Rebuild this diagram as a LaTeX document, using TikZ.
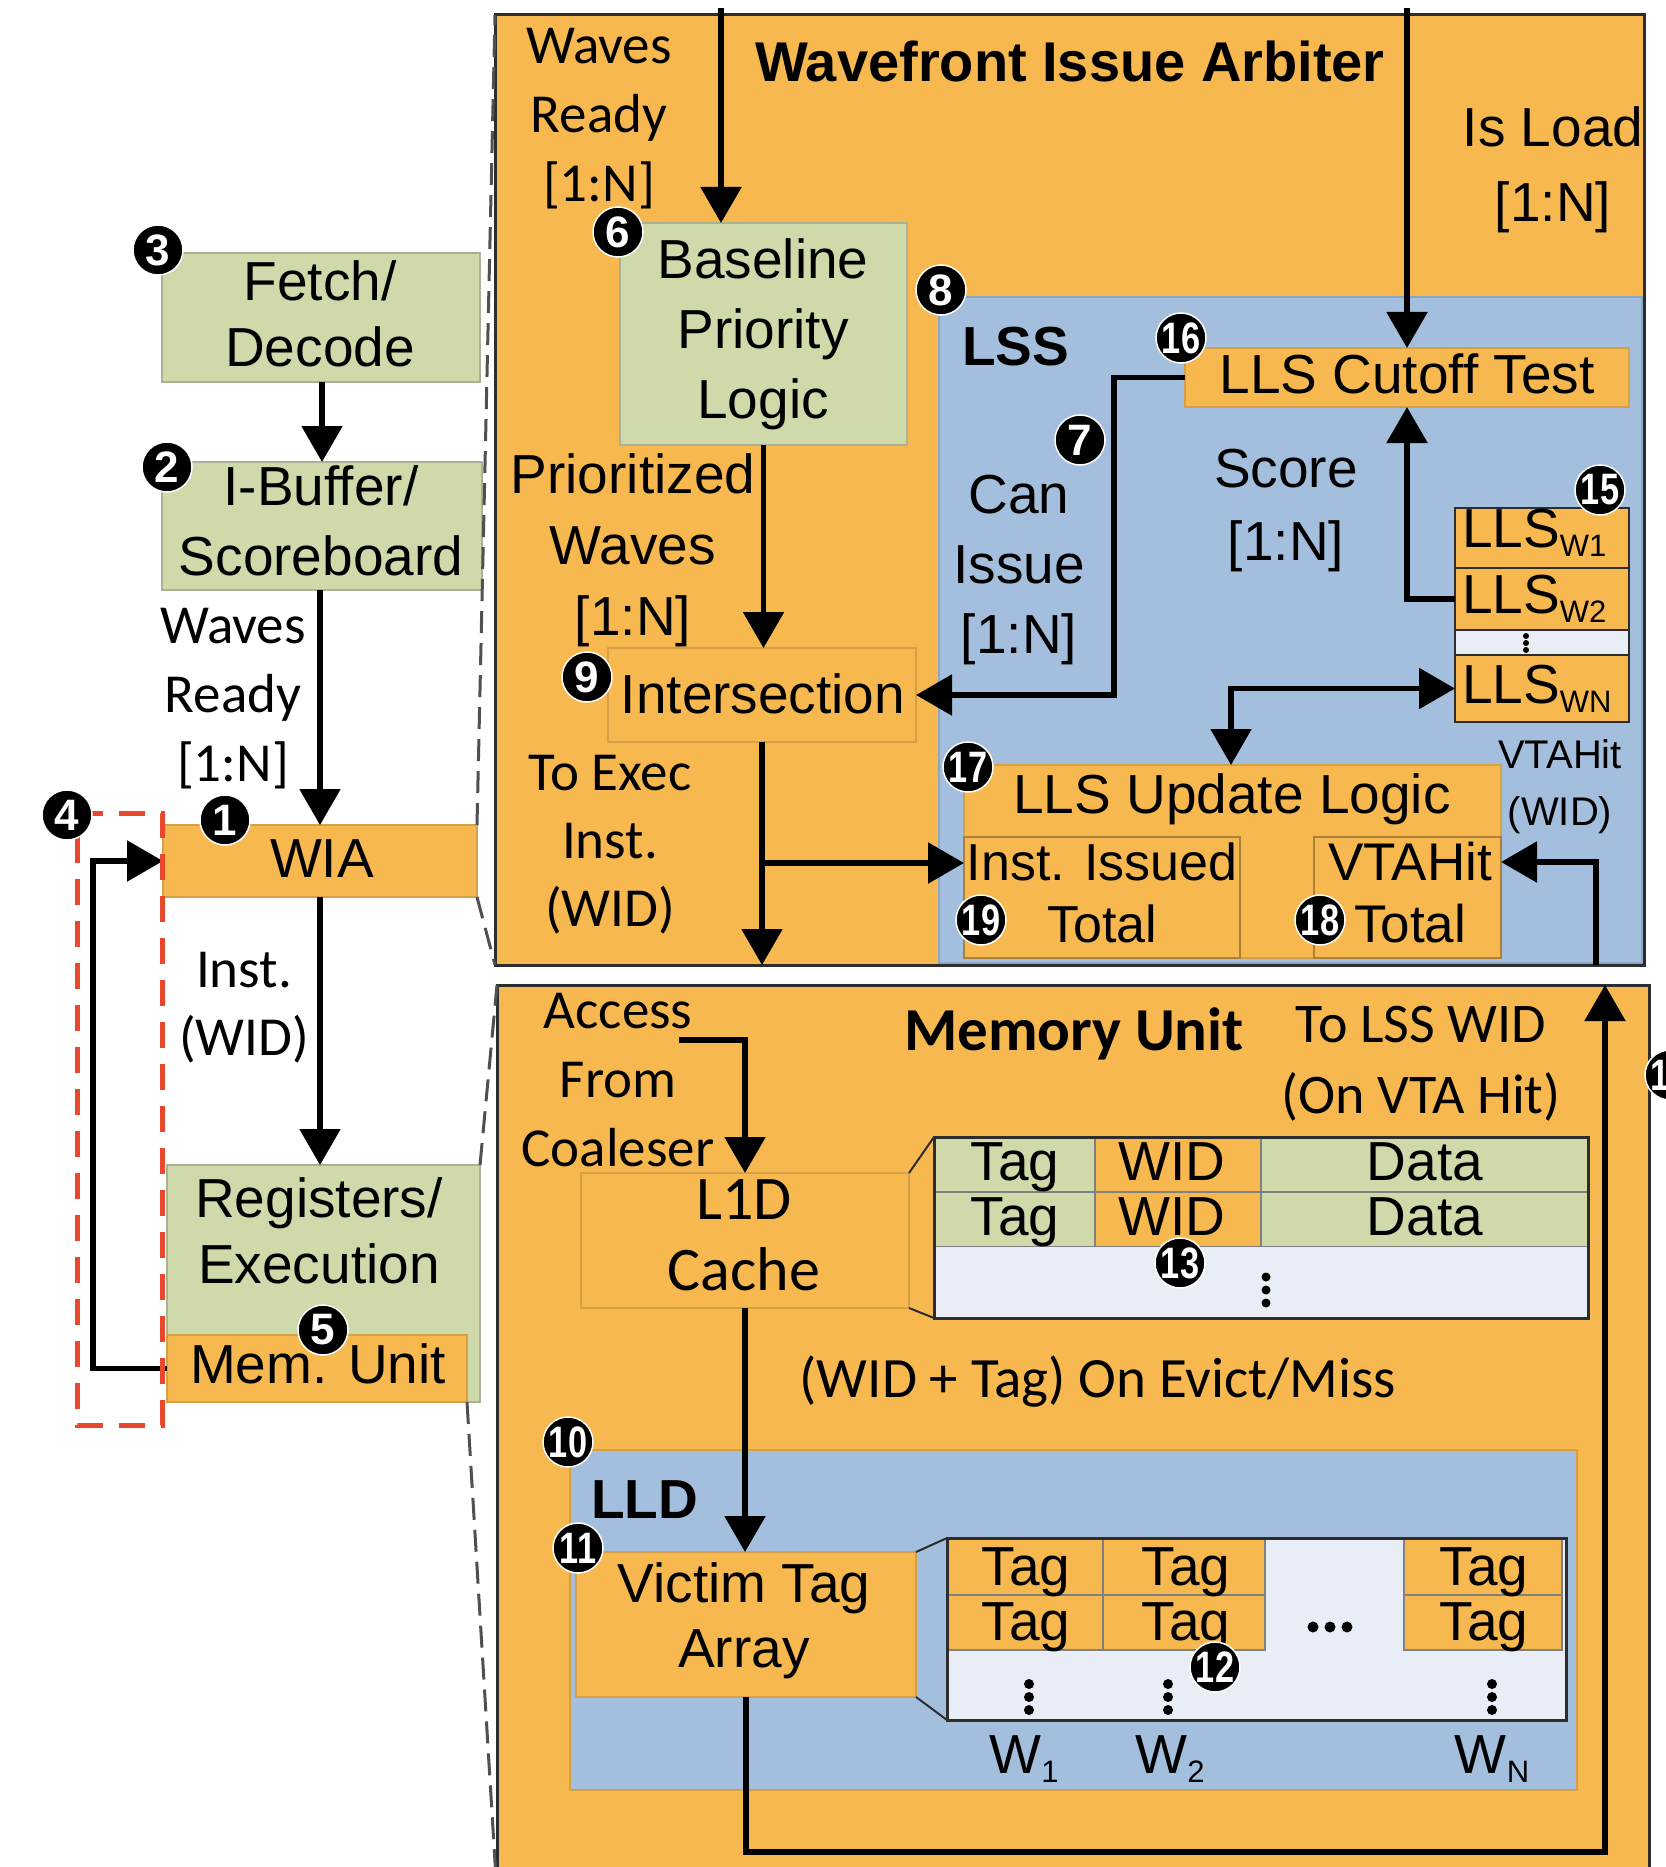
\documentclass[tikz,border=0pt]{standalone}
\usepackage{fontspec}
\usepackage{graphicx}
\setmainfont{Liberation Sans}
\newfontfamily\calib{Carlito}
\usetikzlibrary{arrows.meta}
\definecolor{org}{RGB}{247,184,80}
\definecolor{obd}{RGB}{214,160,70}
\definecolor{grn}{RGB}{207,217,170}
\definecolor{gbd}{RGB}{170,178,150}
\definecolor{blu}{RGB}{164,191,221}
\definecolor{bbd}{RGB}{140,165,195}
\definecolor{lgt}{RGB}{233,237,246}
\definecolor{dk}{RGB}{45,45,45}
\definecolor{redd}{RGB}{232,72,44}
\definecolor{zoomc}{RGB}{80,80,80}
\newcommand\ml[1]{\begin{tabular}[t]{@{}c@{}}#1\end{tabular}}
\newcommand\sub[1]{\raisebox{-9pt}{\fontsize{31}{31}\selectfont #1}}
\newcommand\two[1]{\scalebox{0.78}[1]{#1}}
\newcommand\fA[1]{\fontsize{55}{#1}\selectfont}
\newcommand\fC[1]{\calib\fontsize{55}{#1}\selectfont}
\newcommand\bx[6]{%
 \pgfmathsetmacro\bxw{#5-#3}\pgfmathsetmacro\bxh{#6-#4}%
 \pgfmathsetmacro\bxx{(#3+#5)/2}\pgfmathsetmacro\bxy{(#4+#6)/2}%
 \node[#2, minimum width=\bxw pt, minimum height=\bxh pt] (#1) at (\bxx,\bxy) {};}
\begin{document}
\begin{tikzpicture}[x=1pt,y=-1pt,
  every node/.style={inner sep=0pt, outer sep=0pt},
  gbox/.style={fill=grn, draw=gbd, line width=1.5pt},
  obox/.style={fill=org, draw=obd, line width=1.5pt},
  bbox/.style={fill=blu, draw=bbd, line width=1.5pt},
  lbox/.style={fill=lgt, draw=none},
  big/.style={fill=org, draw=dk, line width=3pt},
  gcell/.style={fill=grn, draw=gray, line width=1.5pt},
  ocell/.style={fill=org, draw=gray, line width=1.5pt},
  lcell/.style={fill=org, draw=dk, line width=2pt},
  frame/.style={draw=dk, line width=3pt},
  arr/.style={line width=5.5pt, -{Triangle[width=40pt,length=36pt]}},
  arrtwo/.style={line width=5.5pt, {Triangle[width=40pt,length=36pt]}-{Triangle[width=40pt,length=36pt]}},
  thinln/.style={draw=dk, line width=2pt},
  zoomln/.style={draw=zoomc, line width=3pt, dash pattern=on 22pt off 10pt},
  redln/.style={draw=redd, line width=5pt, dash pattern=on 26pt off 16pt},
  ta/.style={anchor=base, font=\fA{70}},
  mk/.style={circle, fill=black, draw=white, line width=1.5pt, text=white,
    minimum size=50pt, font=\fontsize{44}{44}\selectfont\bfseries}
]
\useasboundingbox (0,0) rectangle (1665,1867);
\fill[white] (0,0) rectangle (1665,1867);

% ---------- big boxes ----------
\bx{wiabox}{big}{495}{15}{1644}{965}
\bx{membox}{big}{497}{985}{1649}{1895}
\bx{lss}{bbox}{939}{297}{1642}{963}
\bx{lld}{bbox, draw=obd}{570}{1450}{1577}{1790}

% ---------- WIA internals ----------
\bx{base}{gbox}{620}{223}{907}{445}
\bx{inter}{obox}{608}{648}{916}{742}
\bx{cut}{obox}{1185}{348}{1629}{407}
\bx{w1}{lcell}{1455}{508}{1629}{568}
\bx{w2}{lcell}{1455}{568}{1629}{630}
\bx{wd}{lcell, fill=lgt}{1455}{630}{1629}{655}
\bx{wn}{lcell}{1455}{655}{1629}{722}
\fill (1526,636) circle[radius=3pt] (1526,643) circle[radius=3pt] (1526,650) circle[radius=3pt];
\bx{upd}{obox}{964}{765}{1501}{958}
\bx{ii}{obox, draw=obd!80!black}{964}{837}{1240}{958}
\bx{vh}{obox, draw=obd!80!black}{1314}{837}{1501}{958}

% ---------- Memory internals ----------
\bx{l1d}{obox}{581}{1173}{909}{1308}
\bx{c11}{gcell}{934}{1137}{1095}{1192}
\bx{c12}{ocell}{1095}{1137}{1261}{1192}
\bx{c13}{gcell}{1261}{1137}{1588}{1192}
\bx{c21}{gcell}{934}{1192}{1095}{1247}
\bx{c22}{ocell}{1095}{1192}{1261}{1247}
\bx{c23}{gcell}{1261}{1192}{1588}{1247}
\bx{c3}{lbox}{934}{1247}{1588}{1318}
\bx{tbla}{frame}{934}{1137}{1588}{1318}
\fill (1266,1277) circle[radius=4.5pt] (1266,1290) circle[radius=4.5pt] (1266,1303) circle[radius=4.5pt];
\draw[thinln] (l1d.north east) -- (tbla.north west);
\draw[thinln] (l1d.south east) -- (tbla.south west);

\bx{vta}{obox}{576}{1552}{916}{1697}
\bx{tblbg}{lbox}{947}{1538}{1566}{1720}
\bx{d11}{ocell}{947}{1538}{1103}{1595}
\bx{d21}{ocell}{947}{1595}{1103}{1650}
\bx{d12}{ocell}{1103}{1538}{1265}{1595}
\bx{d22}{ocell}{1103}{1595}{1265}{1650}
\bx{d1n}{ocell}{1404}{1538}{1562}{1595}
\bx{d2n}{ocell}{1404}{1595}{1562}{1650}
\bx{tblb}{frame}{947}{1538}{1566}{1720}
\fill (1313,1627) circle[radius=5.5pt] (1330,1627) circle[radius=5.5pt] (1347,1627) circle[radius=5.5pt];
\foreach \xx in {1029,1168,1492}{
  \fill (\xx,1684) circle[radius=5pt] (\xx,1697) circle[radius=5pt] (\xx,1710) circle[radius=5pt];}
\draw[thinln] (vta.north east) -- (tblb.north west);
\draw[thinln] (vta.south east) -- (tblb.south west);

% ---------- left column ----------
\bx{fetch}{gbox}{162}{253}{480}{382}
\bx{ibuf}{gbox}{162}{462}{482}{590}
\bx{wia}{obox}{163}{825}{477}{897}
\bx{reg}{gbox}{167}{1165}{480}{1402}
\bx{memu}{obox}{167}{1335}{467}{1402}

% ---------- connectors ----------
\draw[arr] (ibuf.north |- fetch.south) -- (ibuf.north);
\draw[arr] (wia.north |- ibuf.south) -- (wia.north);
\draw[arr] (wia.south) -- (wia.south |- reg.north);
\coordinate (fbx) at (93,0);
\draw[arr] (memu.west) -| (fbx |- wia.west) -- (wia.west);

\coordinate (wrtop) at (721,8);
\draw[arr] (wrtop) -- (wrtop |- base.north);
\draw[arr] (base.south) -- (base.south |- inter.north);
\coordinate (cix) at (1114,0);
\draw[arr] (cut.west) -| (cix |- inter.east) -- (inter.east);
\coordinate (iltop) at (1407,8);
\draw[arr] (iltop) -- (iltop |- cut.north);
\draw[arr] (w2.west) -| (iltop |- cut.south);
\coordinate (dblx) at (1231,0);
\draw[arrtwo] (wn.west) -| (dblx |- upd.north);
\draw[arr] (inter.south) -- (inter.south |- wiabox.south);
\coordinate (brY) at (0,863);
\draw[arr] (inter.south |- brY) -- (ii.west |- brY);
\coordinate (vfb) at (1596,965);
\coordinate (vhin) at (1501,862);
\draw[arr] (vfb) |- (vhin);

\coordinate (acc) at (679,1040);
\draw[arr] (acc) -| (l1d.north);
\draw[arr] (l1d.south) -- (l1d.south |- vta.north);
\coordinate (lpc) at (1605,1852);
\draw[arr] (vta.south) |- (lpc) -- (lpc |- membox.north);

% ---------- zoom lines ----------
\draw[zoomln] (wia.north east) -- (wiabox.north west);
\draw[zoomln] (wia.south east) -- (wiabox.south west);
\draw[zoomln] (reg.north east) -- (membox.north west);
\draw[zoomln] (memu.south east) -- (membox.south west);

% ---------- red dashed region ----------
\draw[redln] (77,813) -- (162,813) -- (162,1425) -- (77,1425) -- cycle;

% ---------- texts: left ----------
\node[ta, font=\fA{66}] (tFetch) at (320,301) {\ml{Fetch/\\Decode}};
\node[ta, font=\fA{70}] (tIbuf) at (321,505) {\ml{I-Buffer/\\Scoreboard}};
\node[ta, font=\fC{69}] (tWr1) at (233,643) {\ml{Waves\\Ready\\{}[1:N]}};
\node[ta] (tWia) at (322,877) {WIA};
\node[ta, font=\fC{68}] (tInst1) at (244,987) {\ml{Inst.\\(WID)}};
\node[ta, font=\fA{66}] (tReg) at (319,1217) {\ml{Registers/\\Execution}};
\node[ta] (tMem) at (318,1383) {Mem. Unit};

% ---------- texts: WIA ----------
\node[ta, font=\fC{69}] (tWr2) at (599,64) {\ml{Waves\\Ready\\{}[1:N]}};
\node[ta, font={\fontsize{56}{60}\selectfont\bfseries}] (tTitle) at (1070,82) {Wavefront Issue Arbiter};
\node[ta, font=\fA{75}] (tIsl) at (1553,147) {\ml{Is Load\\{}[1:N]}};
\node[ta, font=\fA{70}] (tBase) at (763,279) {\ml{Baseline\\Priority\\Logic}};
\node[anchor=base west, font={\fontsize{55}{60}\selectfont\bfseries}] (tLss) at (962,365) {LSS};
\node[ta, font=\fA{71}] (tPrio) at (633,493) {\ml{Prioritized\\Waves\\{}[1:N]}};
\node[ta] (tInter) at (763,713) {Intersection};
\node[ta, font=\fC{68}] (tExec) at (610,790) {\ml{To Exec\\Inst.\\(WID)}};
\node[ta, font=\fA{70}] (tCan) at (1019,513) {\ml{Can\\Issue\\{}[1:N]}};
\node[ta, font=\fA{73}] (tScore) at (1286,487) {\ml{Score\\{}[1:N]}};
\node[ta] (tCut) at (1407,393) {LLS Cutoff Test};
\node[anchor=base west, font=\fA{60}] (tW1) at (1462,547) {LLS\sub{W1}};
\node[anchor=base west, font=\fA{60}] (tW2) at (1462,613) {LLS\sub{W2}};
\node[anchor=base west, font=\fA{60}] (tWN) at (1462,703) {LLS\sub{WN}};
\node[ta] (tUpd) at (1232,813) {LLS Update Logic};
\node[ta, font={\fontsize{52}{62}\selectfont}] (tIi) at (1102,880) {\ml{Inst. Issued\\Total}};
\node[ta, font={\fontsize{53}{62}\selectfont}] (tVh) at (1410,880) {\ml{VTAHit\\Total}};
\node[ta, font={\fontsize{40}{57}\selectfont}] (tVhw) at (1560,768) {\ml{VTAHit\\(WID)}};

% ---------- texts: memory ----------
\node[ta, font=\fC{69}] (tAcc) at (618,1028) {\ml{Access\\From\\Coaleser}};
\node[ta, font={\calib\bfseries\fontsize{61}{61}\selectfont}] (tMu) at (1074,1050) {Memory Unit};
\node[ta, font={\calib\fontsize{56}{71}\selectfont}] (tTolss) at (1421,1042) {\ml{To LSS WID\\(On VTA Hit)}};
\node[ta, font={\calib\fontsize{62}{71}\selectfont}] (tL1d) at (744,1219) {\ml{L1D\\Cache}};
\node[ta] (tT1) at (1015,1180) {Tag};
\node[ta] (tT2) at (1015,1235) {Tag};
\node[ta] (tI1) at (1172,1180) {WID};
\node[ta] (tI2) at (1172,1235) {WID};
\node[ta] (tD1) at (1425,1180) {Data};
\node[ta] (tD2) at (1425,1235) {Data};
\node[ta, font={\calib\fontsize{57}{60}\selectfont}] (tEvict) at (1098,1397) {(WID + Tag) On Evict/Miss};
\node[anchor=base west, font={\fontsize{55}{60}\selectfont\bfseries}] (tLld) at (591,1518) {LLD};
\node[ta, font=\fA{65}] (tVta) at (744,1602) {\ml{Victim Tag\\Array}};
\node[ta] (tg11) at (1026,1585) {Tag};
\node[ta] (tg21) at (1026,1640) {Tag};
\node[ta] (tg12) at (1186,1585) {Tag};
\node[ta] (tg22) at (1186,1640) {Tag};
\node[ta] (tg1n) at (1484,1585) {Tag};
\node[ta] (tg2n) at (1484,1640) {Tag};
\node[ta] (tWa) at (1024,1773) {W\sub{1}};
\node[ta] (tWb) at (1170,1773) {W\sub{2}};
\node[ta] (tWc) at (1492,1773) {W\sub{N}};

% ---------- markers ----------
\node[mk] (m1) at (225,820) {1};
\node[mk] (m2) at (167,467) {2};
\node[mk] (m3) at (158,250) {3};
\node[mk] (m4) at (67,815) {4};
\node[mk] (m5) at (323,1330) {5};
\node[mk] (m6) at (618,232) {6};
\node[mk] (m7) at (1080,440) {7};
\node[mk] (m8) at (941,290) {8};
\node[mk] (m9) at (587,677) {9};
\node[mk] (m10) at (568,1442) {\two{10}};
\node[mk] (m11) at (578,1548) {\two{11}};
\node[mk] (m12) at (1215,1667) {\two{12}};
\node[mk] (m13) at (1180,1263) {\two{13}};
\node[mk] (m14) at (1670,1075) {\two{14}};
\node[mk] (m15) at (1600,490) {\two{15}};
\node[mk] (m16) at (1181,338) {\two{16}};
\node[mk] (m17) at (968,767) {\two{17}};
\node[mk] (m18) at (1320,920) {\two{18}};
\node[mk] (m19) at (981,920) {\two{19}};
\end{tikzpicture}
\end{document}
